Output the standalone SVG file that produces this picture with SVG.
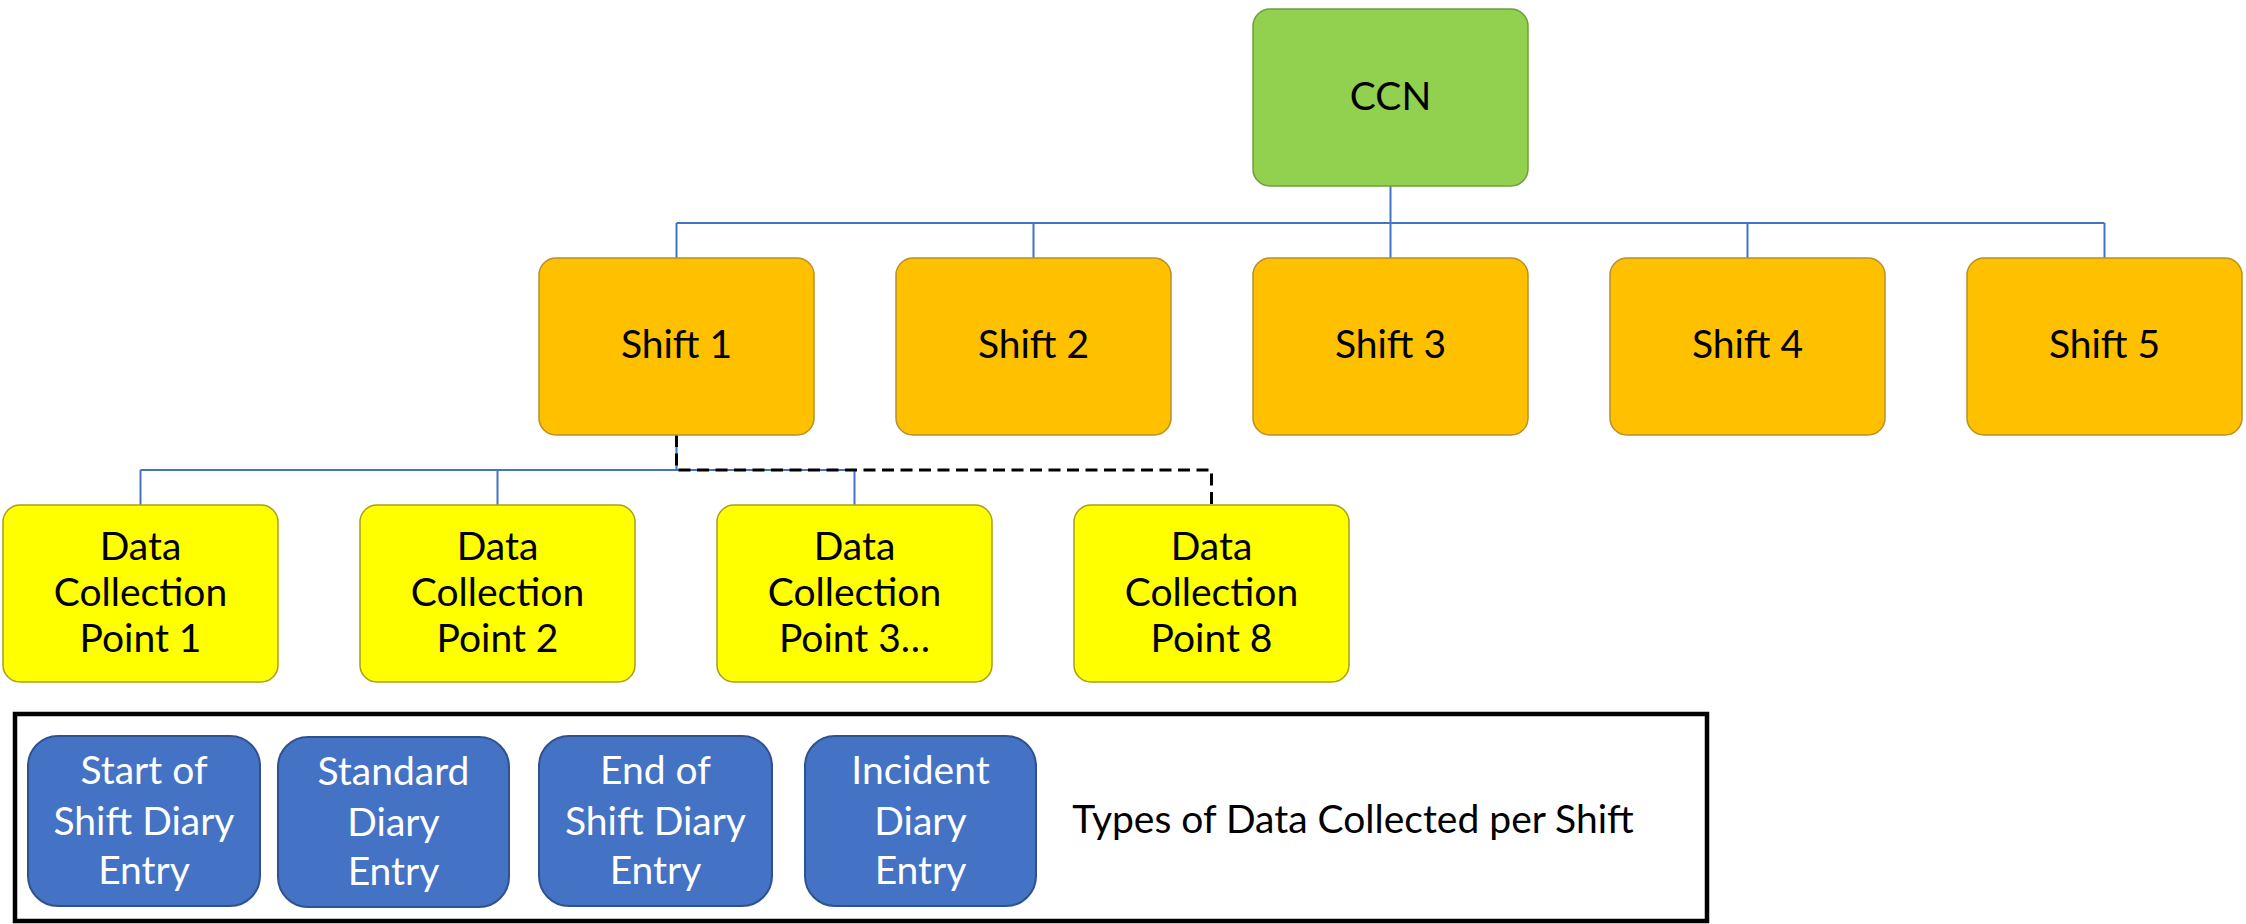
<svg xmlns="http://www.w3.org/2000/svg" width="2246" height="924" viewBox="0 0 2246 924">
<style>
text{font-family:Lato,"Open Sans","Liberation Sans",sans-serif;font-size:39px;text-anchor:middle;fill:#000}
.ccn{fill:#92D050;stroke:#6F9E3A;stroke-width:1.5}
.shift{fill:#FFC000;stroke:#B8902A;stroke-width:1.5}
.dcp{fill:#FFFF00;stroke:#A8A018;stroke-width:1.5}
.type{fill:#4472C4;stroke:#2F528F;stroke-width:2}
.w{fill:#fff}
.conn{fill:none;stroke:#4472C4;stroke-width:2}
.dash{fill:none;stroke:#000;stroke-width:3;stroke-dasharray:12 6.5}
</style>
<rect width="2246" height="924" fill="#fff"/>
<g id="connectors">
<path class="conn" d="M1390.5 186V223M676.5 223H2104.5M676.5 223V258M1033.5 223V258M1390.5 223V258M1747.5 223V258M2104.5 223V258"/>
<path class="conn" d="M676.5 435V470M140.5 470H854.5M140.5 470V505M497.5 470V505M854.5 470V505"/>
<path class="dash" d="M676.5 435V470H1211.5V505"/>
</g>
<g id="ccn"><rect class="ccn" x="1253" y="9" width="275" height="177" rx="17"/><text x="1390.5" y="110">CCN</text></g>
<g id="shift1"><rect class="shift" x="539" y="258" width="275" height="177" rx="17"/><text x="676.5" y="358">Shift 1</text></g>
<g id="shift2"><rect class="shift" x="896" y="258" width="275" height="177" rx="17"/><text x="1033.5" y="358">Shift 2</text></g>
<g id="shift3"><rect class="shift" x="1253" y="258" width="275" height="177" rx="17"/><text x="1390.5" y="358">Shift 3</text></g>
<g id="shift4"><rect class="shift" x="1610" y="258" width="275" height="177" rx="17"/><text x="1747.5" y="358">Shift 4</text></g>
<g id="shift5"><rect class="shift" x="1967" y="258" width="275" height="177" rx="17"/><text x="2104.5" y="358">Shift 5</text></g>
<g id="dcp1"><rect class="dcp" x="3" y="505" width="275" height="177" rx="17"/><text x="140.5" y="560">Data</text><text x="140.5" y="606">Collection</text><text x="140.5" y="652">Point 1</text></g>
<g id="dcp2"><rect class="dcp" x="360" y="505" width="275" height="177" rx="17"/><text x="497.5" y="560">Data</text><text x="497.5" y="606">Collection</text><text x="497.5" y="652">Point 2</text></g>
<g id="dcp3"><rect class="dcp" x="717" y="505" width="275" height="177" rx="17"/><text x="854.5" y="560">Data</text><text x="854.5" y="606">Collection</text><text x="854.5" y="652">Point 3…</text></g>
<g id="dcp4"><rect class="dcp" x="1074" y="505" width="275" height="177" rx="17"/><text x="1211.5" y="560">Data</text><text x="1211.5" y="606">Collection</text><text x="1211.5" y="652">Point 8</text></g>
<g id="legend">
<rect x="15" y="714" width="1692" height="207" fill="none" stroke="#000" stroke-width="4.5"/>
<g id="type1"><rect class="type" x="28" y="736" width="232" height="170" rx="30"/><text class="w" x="144" y="784">Start of</text><text class="w" x="144" y="835">Shift Diary</text><text class="w" x="144" y="884">Entry</text></g>
<g id="type2"><rect class="type" x="278" y="737" width="231" height="170" rx="30"/><text class="w" x="393.5" y="785">Standard</text><text class="w" x="393.5" y="836">Diary</text><text class="w" x="393.5" y="885">Entry</text></g>
<g id="type3"><rect class="type" x="539" y="736" width="233" height="170" rx="30"/><text class="w" x="655.5" y="784">End of</text><text class="w" x="655.5" y="835">Shift Diary</text><text class="w" x="655.5" y="884">Entry</text></g>
<g id="type4"><rect class="type" x="805" y="736" width="231" height="170" rx="30"/><text class="w" x="920.5" y="784">Incident</text><text class="w" x="920.5" y="835">Diary</text><text class="w" x="920.5" y="884">Entry</text></g>
<text x="1353" y="833">Types of Data Collected per Shift</text>
</g>
</svg>
